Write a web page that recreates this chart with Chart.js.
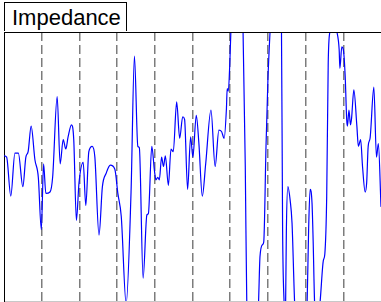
<!DOCTYPE html>
<html>
<head>
<meta charset="utf-8">
<script src="https://cdn.jsdelivr.net/npm/chart.js@4"></script>
<style>
  html, body { margin:0; padding:0; background:#fff; }
  #wrap { position:relative; width:381px; height:302px; }
  #chart { position:absolute; left:0; top:0; }
  #title {
    position:absolute; left:4px; top:2px; width:123px; height:29px;
    border:1px solid #000; border-bottom:none; background:#fff;
    font-family:"Liberation Sans", Arial, sans-serif; font-size:22px;
    line-height:29px; padding-left:7px; box-sizing:border-box; color:#000;
  }
</style>
</head>
<body>
<div id="wrap">
  <canvas id="chart" width="381" height="302"></canvas>
  <div id="title"></div>
</div>
<script>
// ---- Data ----
const TITLE = "Impedance";
const timeValues = [0,0.07,0.18,0.29,0.38,0.50,0.58,0.64,0.72,0.82,0.91,0.99,1.05,1.11,1.22,1.29,1.41,1.49,1.57,1.64,
  1.70,1.79,1.85,1.92,1.99,2.10,2.17,2.25,2.34,2.41,2.52,2.61,2.71,2.82,2.94,3.02,3.11,3.24,3.37,3.46,
  3.55,3.59,3.69,3.79,3.83,3.92,3.99,4.03,4.08,4.12,4.18,4.23,4.28,4.36,4.43,4.49,4.58,4.66,4.74,4.79,
  4.87,4.95,5.01,5.10,5.17,5.26,5.35,5.49,5.60,5.70,5.77,5.84,5.90,5.92,5.95,5.99,6.02,6.12,6.25,6.34,
  6.40,6.44,6.52,6.67,6.75,6.79,6.86,6.89,6.95,7.00,7.06,7.14,7.28,7.36,7.39,7.43,7.45,7.47,7.49,7.53,
  7.59,7.64,7.71,7.80,7.95,8.04,8.08,8.12,8.17,8.20,8.24,8.31,8.38,8.47,8.51,8.56,8.60,8.65,8.73,8.82,
  8.89,8.91,8.96,9.00,9.05,9.09,9.11,9.15,9.19,9.22,9.28,9.36,9.40,9.46,9.51,9.58,9.62,9.66,9.71,9.81,
  9.88,9.93,10.0];
const impedance = [0.08,0.07,-0.22,0.10,0.10,-0.15,0.07,0.11,0.30,0.05,-0.08,-0.47,0.02,-0.20,-0.19,-0.08,0.52,0.02,0.20,0.13,
  0.22,0.31,0.20,-0.40,-0.12,0.03,-0.29,0.11,0.15,0.07,-0.51,-0.15,-0.05,0.01,-0.02,-0.20,-0.37,-1.02,-0.19,0.82,
  0.15,0.14,-0.83,-0.36,-0.35,0.15,-0.03,-0.10,-0.08,-0.10,0.07,0.00,0.08,-0.14,0.13,0.11,0.48,0.21,0.37,0.35,
  -0.17,0.22,0.07,0.38,0.17,-0.22,0.02,0.42,0.00,0.27,0.26,0.21,0.43,0.58,0.56,0.77,1.02,1.40,1.40,1.02,
  0.00,-1.02,-1.30,-1.30,-1.02,-0.67,-0.58,-0.56,0.15,0.64,1.02,1.40,1.40,1.02,-0.47,-1.02,-1.15,-1.02,-0.47,-0.15,
  -0.25,-0.42,-1.02,-1.35,-1.35,-1.02,-0.47,-0.17,-0.27,-0.55,-1.02,-1.15,-1.02,-0.70,-0.65,-0.22,0.77,1.02,1.20,1.02,
  0.87,0.73,0.89,0.87,0.67,0.35,0.30,0.42,0.31,0.36,0.57,0.30,0.15,0.20,0.00,-0.19,-0.12,0.15,0.21,0.59,
  0.07,0.17,-0.30];
const xRange = [0, 10];
const yRange = [-1, 1];

document.getElementById("title").textContent = TITLE;

// top frame line of the axes box
const frameTop = {
  id:"frameTop",
  afterDraw(chart){
    const {ctx, chartArea:a} = chart;
    ctx.save();
    ctx.strokeStyle = "#000"; ctx.lineWidth = 1;
    ctx.beginPath(); ctx.moveTo(a.left, a.top + 0.5); ctx.lineTo(a.right, a.top + 0.5); ctx.stroke();
    ctx.restore();
  }
};

new Chart(document.getElementById("chart"), {
  type:"line",
  data:{ datasets:[{
    data: timeValues.map((t,i)=>({x:t, y:impedance[i]})),
    borderColor:"#0000ff", borderWidth:1.2, pointRadius:0,
    cubicInterpolationMode:"monotone", clip:0, fill:false
  }]},
  options:{
    responsive:false, animation:false, events:[],
    layout:{ padding:{ left:4, top:32, right:0, bottom:1 } },
    plugins:{ legend:{display:false}, tooltip:{enabled:false} },
    scales:{
      x:{ type:"linear", min:xRange[0], max:xRange[1],
          ticks:{ display:false, stepSize:1 },
          grid:{ drawTicks:false, lineWidth:1.5,
                 color: c => (c.tick && (c.tick.value===xRange[0] || c.tick.value===xRange[1])) ? "rgba(0,0,0,0)" : "#7c7c7c" },
          border:{ display:true, color:"#c8c8c8", width:1, dash:[9,4] } },
      y:{ min:yRange[0], max:yRange[1],
          ticks:{ display:false }, grid:{ display:false, drawTicks:false },
          border:{ display:true, color:"#000", width:1 } }
    }
  },
  plugins:[frameTop]
});
</script>
</body>
</html>
